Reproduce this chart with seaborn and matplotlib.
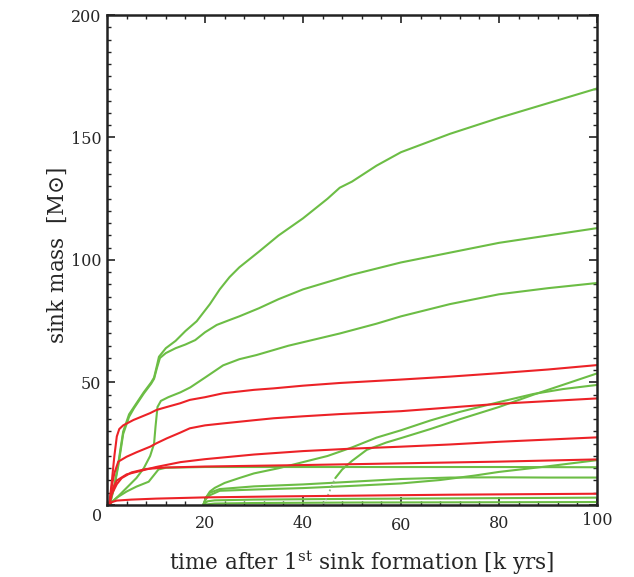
import numpy as np
import pandas as pd
import matplotlib
matplotlib.use('Agg')
import matplotlib.pyplot as plt
import seaborn as sns

# sink mass tracks: time [kyr], mass [Msun]
# green sinks
t_g1 = [0.6, 1.5, 2.3, 3.3, 4.5, 5.5, 7.5, 9.0, 9.6, 10.2, 10.6, 12, 14, 16, 18.3, 21, 23, 25, 27, 31, 35, 40, 45, 47.5, 50, 55, 60, 70, 80, 90, 100]
m_g1 = [0.5, 8, 17, 30, 37, 40, 46, 50, 52, 57, 60.5, 64, 67, 71, 75, 82, 88, 93, 97, 103.4, 110, 117, 125, 129.5, 132, 138.5, 144, 151.5, 158, 164, 170]

t_g2 = [0.6, 1.5, 2.3, 3.3, 4.5, 5.5, 7.5, 9.0, 9.6, 10.2, 10.8, 12, 14, 16, 18, 20, 22.4, 25, 27, 31, 35, 40, 50, 60, 70, 80, 90, 100]
m_g2 = [0.5, 7.5, 16, 29, 36, 39.5, 45.5, 49.5, 51.5, 56, 60, 62, 64, 65.5, 67.3, 70.5, 73.5, 75.5, 77, 80.3, 84, 88, 94, 99, 103, 107, 110, 113]

t_g3 = [0.6, 2, 4, 6, 7.5, 8.8, 9.6, 9.9, 10.3, 11, 12.5, 15, 17, 20, 23.7, 27, 30.5, 37, 47.5, 55, 60, 70, 80, 90, 100]
m_g3 = [0.5, 3, 7, 11, 15, 20, 25, 32, 40, 42.5, 44, 46, 48, 52, 57, 59.5, 61.2, 65, 70, 74, 77, 82, 86, 88.5, 90.6]

t_g4 = [0.6, 2, 4, 6, 8.5, 9.5, 10.5, 12, 20, 40, 60, 80, 100]
m_g4 = [0.5, 3, 5.5, 7.5, 9.5, 12, 14.5, 15.2, 15.5, 15.5, 15.5, 15.5, 15.4]

t_g5 = [19.7, 20.2, 21, 22, 24, 27, 30, 35, 40, 45, 50, 55, 60, 66, 72, 80, 87, 93, 100]
m_g5 = [0.3, 3, 5.5, 7, 9, 11, 12.9, 15, 17.5, 20, 23.5, 27.5, 30.5, 34.5, 38, 42, 45.3, 47.3, 49]

t_g6 = [46.6, 48, 50, 53, 57, 60, 66, 72, 80, 87, 93, 100]
m_g6 = [11, 14.5, 18, 22.5, 25.5, 27.3, 31, 35, 40, 45, 49, 53.7]
# early part of that sink, drawn dotted
t_g6_early = [44.2, 45.0, 45.8, 46.6]
m_g6_early = [0.3, 3.5, 7.5, 11]

t_g7 = [19.7, 20.2, 21, 23, 30, 40, 50, 60, 68, 75, 80, 90, 100]
m_g7 = [0.3, 2.5, 4, 5.8, 6.3, 6.9, 7.8, 8.8, 10.2, 12, 13.5, 15.8, 18.3]

t_g8 = [19.7, 20.2, 21, 23, 30, 40, 50, 60, 70, 80, 90, 100]
m_g8 = [0.3, 3, 5, 6.5, 7.6, 8.4, 9.5, 10.6, 11.2, 11.3, 11.2, 11.2]

t_g9 = [19.7, 20.5, 22, 30, 50, 70, 100]
m_g9 = [0.2, 1.5, 1.9, 2.2, 2.5, 2.7, 3.0]

t_g10 = [19.7, 22, 30, 50, 100]
m_g10 = [0.1, 0.6, 0.8, 1.0, 1.2]

# red sinks
t_r1 = [0.5, 1.0, 1.5, 2.0, 2.5, 3.3, 5.4, 8.8, 10.1, 12.2, 14.9, 16.9, 20, 23.7, 30, 34, 40, 47.5, 60, 70, 80, 90, 100]
m_r1 = [0.5, 10, 20, 28, 31, 32.5, 34.7, 37.5, 38.8, 40, 41.5, 42.9, 44, 45.6, 47, 47.6, 48.7, 49.8, 51.2, 52.4, 53.8, 55.3, 57.1]

t_r2 = [0.5, 1.0, 1.5, 2.3, 4, 6, 8.8, 10.1, 12.2, 14.9, 16.9, 20, 23.7, 30, 34, 40, 47.5, 60, 70, 80, 90, 100]
m_r2 = [0.5, 8, 13, 17.7, 19.7, 21.5, 23.8, 25.2, 27.2, 29.5, 31.3, 32.5, 33.3, 34.6, 35.4, 36.2, 37.1, 38.3, 39.8, 41.3, 42.4, 43.5]

t_r3 = [0.5, 1, 2, 4, 7, 10, 15, 20, 30, 40, 50, 60, 70, 80, 90, 100]
m_r3 = [0.5, 6, 10, 12.5, 14, 15.5, 17.5, 18.7, 20.6, 22, 23, 23.8, 24.7, 25.8, 26.7, 27.6]

t_r4 = [0.5, 1, 2, 3, 5, 8, 12, 20, 40, 60, 80, 100]
m_r4 = [0.5, 4.5, 8.5, 11, 13.3, 14.7, 15.3, 15.7, 16.3, 17, 17.7, 18.6]

t_r5 = [0.5, 1, 2, 5, 10, 20, 35, 50, 70, 100]
m_r5 = [0.3, 1.2, 1.8, 2.2, 2.6, 3.1, 3.5, 3.8, 4.2, 4.6]

x_ticks = [20, 40, 60, 80, 100]
x_tick_labels = ['20', '40', '60', '80', '100']
y_ticks = [0, 50, 100, 150, 200]
y_tick_labels = ['', '50', '100', '150', '200']

GREEN = '#6cbd45'
RED = '#ec2227'


def tidy(tracks):
    frames = []
    for name, (t, m) in tracks.items():
        frames.append(pd.DataFrame({'time': t, 'mass': m, 'sink': name}))
    return pd.concat(frames, ignore_index=True)


greens = tidy({'g1': (t_g1, m_g1), 'g2': (t_g2, m_g2), 'g3': (t_g3, m_g3),
               'g4': (t_g4, m_g4), 'g5': (t_g5, m_g5), 'g6': (t_g6, m_g6),
               'g7': (t_g7, m_g7), 'g8': (t_g8, m_g8), 'g9': (t_g9, m_g9),
               'g10': (t_g10, m_g10)})
greens_dotted = tidy({'g6': (t_g6_early, m_g6_early)})
reds = tidy({'r1': (t_r1, m_r1), 'r2': (t_r2, m_r2), 'r3': (t_r3, m_r3),
             'r4': (t_r4, m_r4), 'r5': (t_r5, m_r5)})

sns.set_style('ticks')
plt.rcParams['font.family'] = ['DejaVu Serif']
plt.rcParams['mathtext.fontset'] = 'dejavuserif'

fig = plt.figure(figsize=(6.34, 5.77), dpi=100)
ax = fig.add_axes([0.1688, 0.1248, 0.7728, 0.8492])

sns.lineplot(data=greens, x='time', y='mass', units='sink', estimator=None,
             sort=False, color=GREEN, lw=1.5, ax=ax)
sns.lineplot(data=greens_dotted, x='time', y='mass', units='sink', estimator=None,
             sort=False, color='#94b58a', lw=1.3, ls=':', ax=ax)
sns.lineplot(data=reds, x='time', y='mass', units='sink', estimator=None,
             sort=False, color=RED, lw=1.5, ax=ax)

ax.set_xlim(0, 100)
ax.set_ylim(0, 200)

for s in ax.spines.values():
    s.set_linewidth(1.8)
    s.set_color('#222222')

ax.set_xticks(x_ticks)
ax.set_xticklabels([])
ax.set_xticks(np.arange(0, 101, 4), minor=True)
ax.set_yticks(y_ticks)
ax.set_yticklabels(y_tick_labels, fontsize=11.5)
ax.set_yticks(np.arange(0, 201, 5), minor=True)
ax.tick_params(which='both', direction='in', top=True, right=True,
               color='#222222')
ax.tick_params(which='major', length=6, width=1.2, pad=4)
ax.tick_params(which='minor', length=3, width=1.0)

# staggered x tick labels as in the original
x_offsets = [-13, -13, -14.8, -13, -11.5]
for v, lab, off in zip(x_ticks, x_tick_labels, x_offsets):
    ax.annotate(lab, xy=(v, 0), xycoords=('data', 'axes fraction'),
                xytext=(0, off), textcoords='offset points',
                ha='center', va='center', fontsize=11.5)
ax.annotate('0', xy=(0, 0), xycoords=('data', 'axes fraction'),
            xytext=(-7, -8.5), textcoords='offset points',
            ha='center', va='center', fontsize=11.5)

ax.set_xlabel(r'time after 1$^{\rm st}$ sink formation [k yrs]', fontsize=15.5)
ax.set_ylabel(r'sink mass  [M$\odot$]', fontsize=15.5)
ax.xaxis.set_label_coords(0.52, -0.088)
ax.yaxis.set_label_coords(-0.078, 0.51)

fig.savefig('out.png', dpi=100)
